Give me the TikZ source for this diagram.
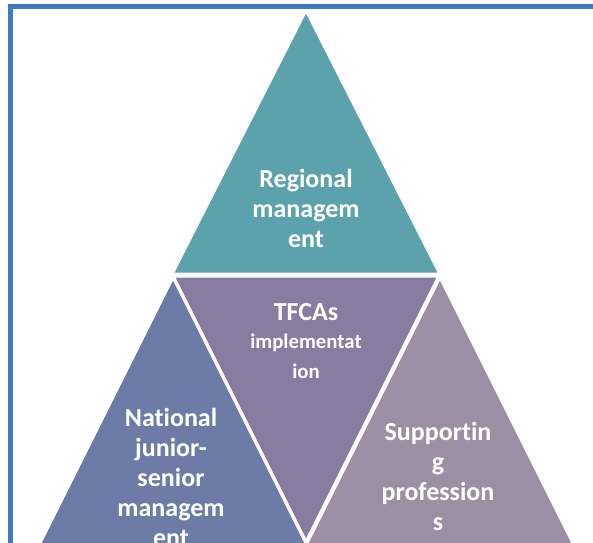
\documentclass[tikz,border=0pt]{standalone}
\usepackage{fontspec}
\setmainfont{Carlito}[Ligatures=NoCommon]
\usepackage{xcolor}
\usetikzlibrary{positioning,calc}

\definecolor{frameblue}{RGB}{60,124,190}
\definecolor{topteal}{RGB}{91,162,173}
\definecolor{midpurple}{RGB}{136,125,160}
\definecolor{leftblue}{RGB}{108,124,166}
\definecolor{rightmauve}{RGB}{157,143,163}

\tikzset{
  tri/.style={draw=white, line width=1.5, line join=bevel},
  lbl/.style={text=white, font=\fontsize{13}{15}\selectfont\bfseries, align=center, inner sep=0pt}
}

\begin{document}
\begin{tikzpicture}[x=0.5pt,y=-0.5pt]
    \useasboundingbox (0,0) rectangle (593,542);
    \clip (0,0) rectangle (593,542);

    % Triangles
    \filldraw[tri, fill=topteal] (306,10) -- (440,274) -- (172,274) -- cycle;
    \filldraw[tri, fill=midpurple] (173,276) -- (439,276) -- (306,542) -- cycle;
    \filldraw[tri, fill=leftblue] (173,277) -- (310,551) -- (36,551) -- cycle;
    \filldraw[tri, fill=rightmauve] (440,277) -- (577,551) -- (303,551) -- cycle;

    % Frame
    \draw[frameblue, line width=2.5] (10,6) rectangle (620,620);

    % Labels
    \node[lbl] (regional) at (306,208) {Regional\\managem\\ent};
    \node[lbl] (tfcas) at (306,341) {TFCAs\\[-1pt]{\fontsize{10.4}{10.5}\selectfont implementat}\\{\fontsize{10.4}{10.5}\selectfont ion}};
    \node[lbl] (national) at (171,477) {National\\junior-\\senior\\managem\\ent};
    \node[lbl] (supporting) at (438,476) {Supportin\\g\\profession\\s};
\end{tikzpicture}
\end{document}
